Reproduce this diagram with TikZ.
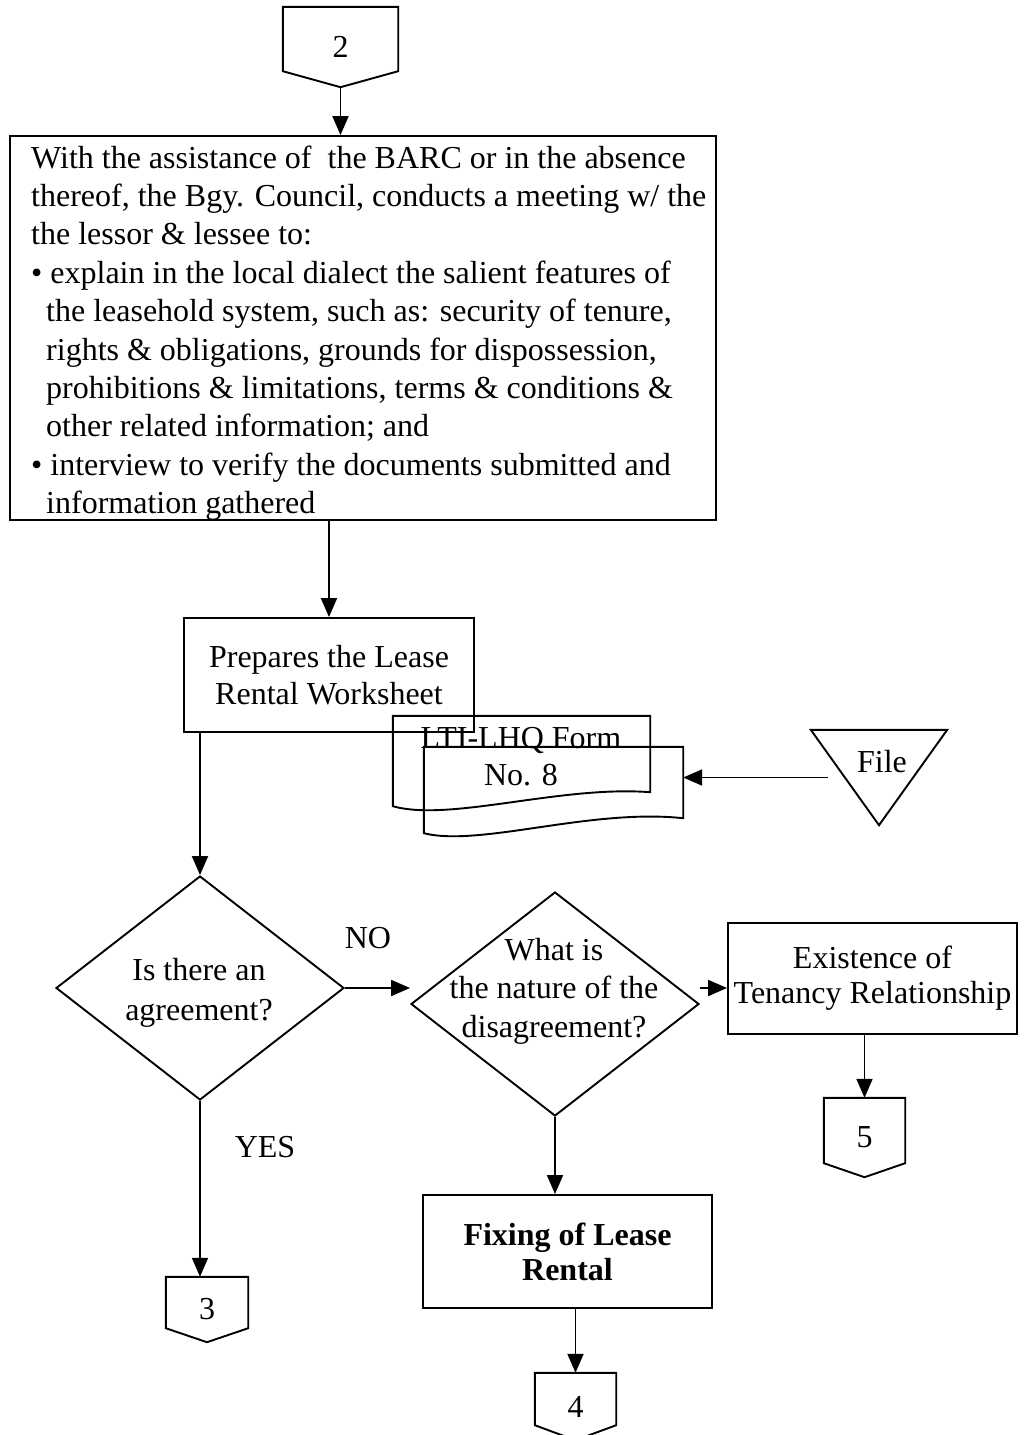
\documentclass[tikz,border=0pt]{standalone}
\usepackage{fontspec}
\setmainfont{Liberation Serif}
\usetikzlibrary{arrows.meta,shapes.geometric,calc}
\tikzset{
  line/.style={line width=1.9pt, line join=miter},
  arr/.style={line width=1.9pt, -{Triangle[length=19pt,width=16pt]}},
  box/.style={draw, line width=1.9pt, rectangle, inner sep=0pt, align=center},
  frame/.style={rectangle, inner sep=0pt},
  dia/.style={draw, line width=1.9pt, diamond, inner sep=0pt, minimum width=288pt, minimum height=224pt},
  txt/.style={inner sep=0pt, align=center},
}
\newcommand\offpagepath[2]{\draw[line] (#1.north west) -- (#1.north east) -- ([yshift=#2]#1.south east) -- (#1.south) -- ([yshift=#2]#1.south west) -- cycle;}
\begin{document}
\begin{tikzpicture}[x=1pt, y=-1pt, font=\fontsize{32}{38.4}\selectfont]
\useasboundingbox (0,0) rectangle (1026,1435);

% off-page connector 2
\node[frame, minimum width=115pt, minimum height=80pt] (c2) at (340.5,47) {2};
\offpagepath{c2}{16pt}

% big process box
\node[box, minimum width=706pt, minimum height=384pt] (big) at (363,328) {};
\node[inner sep=0pt, align=left, anchor=west] (bigt) at (31,333) {%
With the assistance of\ \ the BARC or in the absence\\
thereof, the Bgy. Council, conducts a meeting w/ the\\
the lessor \& lessee to:\\
• explain in the local dialect the salient features of\\
\hspace*{15pt}the leasehold system, such as: security of tenure,\\
\hspace*{15pt}rights \& obligations, grounds for dispossession,\\
\hspace*{15pt}prohibitions \& limitations, terms \& conditions \&\\
\hspace*{15pt}other related information; and\\
• interview to verify the documents submitted and\\
\hspace*{15pt}information gathered};

% prepares box
\node[box, minimum width=290pt, minimum height=114pt] (prep) at (329,675) {\raisebox{-3pt}{Prepares the Lease}\\[-1.4pt]\raisebox{-3pt}{Rental Worksheet}};

% documents
\node[frame, minimum width=257pt, minimum height=90pt] (doc1) at (521.5,761) {};
\draw[line] (doc1.north west) -- (doc1.north east) -- ([yshift=14pt]doc1.south east)
  .. controls +(-90,-7) and +(57,16) .. (doc1.south west) -- cycle;
\node[frame, minimum width=259pt, minimum height=86pt] (doc2) at (553.5,790) {};
\draw[line] (doc2.north west) -- (doc2.north east) -- ([yshift=15pt]doc2.south east)
  .. controls +(-93,-10) and +(56,14) .. (doc2.south west) -- cycle;
\node[txt] (doc1t) at (521,756.5) {LTI-LHQ Form\\[-1.4pt]No. 8};

% file
\node[frame, minimum width=136pt, minimum height=95pt] (file) at (879,777.5) {};
\draw[line] (file.north west) -- (file.north east) -- (file.south) -- cycle;
\node[txt] (filet) at (882,762) {File};

% decisions
\node[dia] (d1) at (200,988) {};
\node[txt] (d1t) at (199,993) {Is there an\\[1.6pt]agreement?};
\node[dia] (d2) at (555,1004) {};
\node[txt] (d2t) at (554,991) {What is\\the nature of the\\disagreement?};

% existence box
\node[box, minimum width=289pt, minimum height=111pt] (ex) at (872.5,978.5) {Existence of\\[-3.4pt]Tenancy Relationship};

% fixing box
\node[box, minimum width=289pt, minimum height=113pt] (fix) at (567.5,1251.5) {\bfseries Fixing of Lease\\[-3.4pt]\bfseries Rental};

% connectors 3,4,5
\node[frame, minimum width=82pt, minimum height=65pt] (c3) at (207,1309.5) {3};
\offpagepath{c3}{14pt}
\node[frame, minimum width=81pt, minimum height=67pt] (c4) at (575.5,1406.5) {4};
\offpagepath{c4}{15pt}
\node[frame, minimum width=81pt, minimum height=79pt] (c5) at (864.5,1137.5) {5};
\offpagepath{c5}{14pt}

% labels
\node[txt] (no) at (368,938) {NO};
\node[txt] (yes) at (265,1147) {YES};

% connectors
\draw[arr] (c2.south) -- (c2.south |- big.north);
\draw[arr] (prep.north |- big.south) -- (prep.north);
\draw[arr] (d1.north |- prep.south) -- (d1.north);
\draw[arr] ([xshift=17pt]file.west) -- (doc2.east |- file.west);
\draw[arr] (d1.east) -- (d1.east -| d2.west);
\draw[arr] (d2.east |- d1.east) -- (ex.west |- d1.east);
\draw[arr] (d1.south) -- (d1.south |- c3.north);
\draw[arr] (d2.south) -- (d2.south |- fix.north);
\draw[arr] (c5.north |- ex.south) -- (c5.north);
\draw[arr] (c4.north |- fix.south) -- (c4.north);
\end{tikzpicture}
\end{document}
